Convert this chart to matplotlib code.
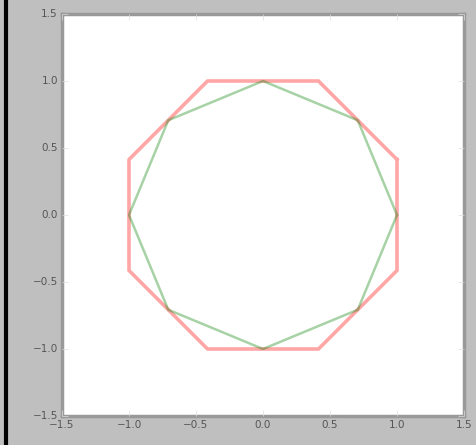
import matplotlib
matplotlib.use('Agg')
import matplotlib.pyplot as plt
from matplotlib.lines import Line2D

# outer (circumscribed) octagon
outer_x = [1.0, 0.414, -0.414, -1.0, -1.0, -0.414, 0.414, 1.0, 1.0]
outer_y = [0.414, 1.0, 1.0, 0.414, -0.414, -1.0, -1.0, -0.414, 0.414]
# inner (inscribed) octagon
inner_x = [1.0, 0.707, 0.0, -0.707, -1.0, -0.707, 0.0, 0.707, 1.0]
inner_y = [0.0, 0.707, 1.0, 0.707, 0.0, -0.707, -1.0, -0.707, 0.0]
ticks = [-1.5, -1.0, -0.5, 0.0, 0.5, 1.0, 1.5]

plt.style.use('classic')
fig = plt.figure(figsize=(4.76, 4.45), dpi=100)
fig.patch.set_facecolor('#bfbfbf')
ax = fig.add_axes([62 / 476, 1 - 416 / 445, 402 / 476, 402 / 445])

ax.plot(outer_x, outer_y, color='r', alpha=0.35, lw=2.6)
ax.plot(inner_x, inner_y, color='g', alpha=0.35, lw=1.8)

ax.set_xlim(-1.5, 1.5)
ax.set_ylim(-1.5, 1.5)
ax.set_xticks(ticks)
ax.set_yticks(ticks)
ax.tick_params(labelsize=7.5, colors='#dddddd', labelcolor='#555555', length=4, pad=3)
for sp in ax.spines.values():
    sp.set_color('#999999')
    sp.set_linewidth(2.5)

# black edge line on the left of the figure
fig.add_artist(Line2D([5.5 / 476, 5.5 / 476], [0, 1], color='k', lw=3, transform=fig.transFigure))

fig.savefig('out.png', dpi=100, facecolor=fig.get_facecolor())
